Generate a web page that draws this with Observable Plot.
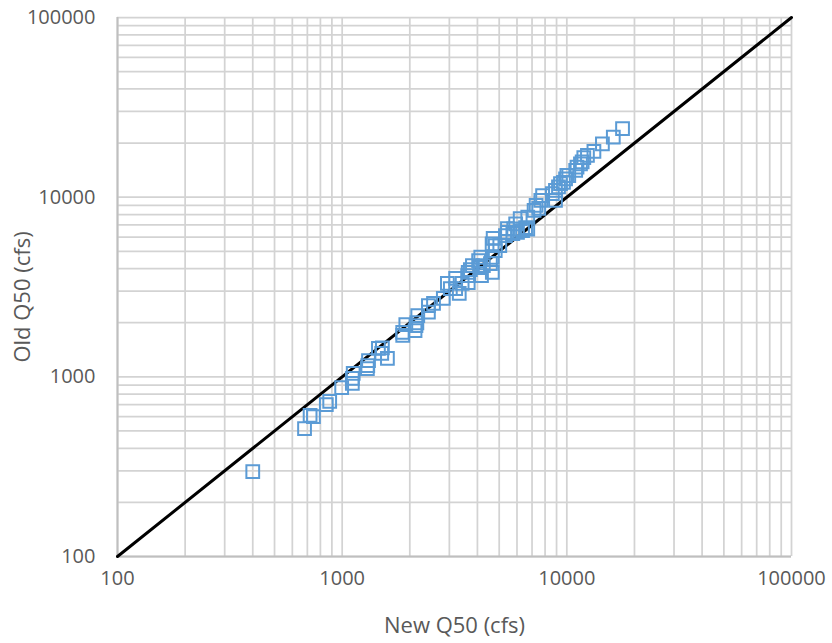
<!DOCTYPE html>
<html>
<head>
<meta charset="utf-8">
<script src="https://cdn.jsdelivr.net/npm/d3@7"></script>
<script src="https://cdn.jsdelivr.net/npm/@observablehq/plot@0.6"></script>
<style>
  html, body { margin: 0; padding: 0; background: #fff; }
  #chart svg { display: block; }
</style>
</head>
<body>
<div id="chart"></div>
<script>
// New Q50 (cfs) vs Old Q50 (cfs)
const newQ50 = [400, 680, 720, 745, 850, 880, 995, 1110, 1110, 1120, 1300, 1295, 1310, 1450, 1510, 1590, 1500,
  1860, 1860, 2110, 1920, 2150, 2170, 2130, 2420, 2420, 2550, 2820, 2940, 3030, 3200, 3420, 3320, 3640, 3620, 3720,
  4100, 3200, 3640, 3800, 4050, 4140, 4250, 4570, 4660, 4800, 4800, 5440, 5750, 6030, 6350, 5440, 6550, 5030, 4660,
  4170, 7800, 8620, 8900, 7500, 7150, 6700, 6200, 5920, 5800, 5330, 4700, 4650, 6700, 11900, 11500, 10950, 10200,
  9870, 9660, 9370, 9180, 8900, 7660, 7300, 17700, 16100, 14400, 13200, 12350, 11700, 11100, 10000];
const oldQ50 = [297, 515, 610, 600, 700, 730, 870, 920, 980, 1045, 1155, 1110, 1230, 1440, 1450, 1265, 1350,
  1700, 1770, 1810, 1950, 2000, 2190, 1930, 2490, 2290, 2560, 2730, 3310, 3100, 3530, 3310, 2910, 3350, 3660, 3950,
  4060, 3100, 3810, 4160, 4430, 4630, 4160, 4270, 4630, 5040, 5380, 6360, 6260, 6360, 6520, 6690, 6770, 5380, 3810,
  3660, 10200, 10450, 9600, 8650, 8430, 7740, 7600, 7100, 6650, 6110, 5900, 5500, 6650, 16600, 15300, 14100, 13200,
  12650, 12100, 11900, 11400, 10900, 9600, 9000, 24100, 21600, 19800, 18000, 17100, 15700, 14700, 13200];
const axisTicks = [100, 1000, 10000, 100000];
const gridValues = [100,200,300,400,500,600,700,800,900,1000,2000,3000,4000,5000,6000,7000,8000,9000,
  10000,20000,30000,40000,50000,60000,70000,80000,90000,100000];
const oneToOne = [100, 100000];
const xTitle = "New Q50 (cfs)";
const yTitle = "Old Q50 (cfs)";

const points = newQ50.map((v, i) => ({x: v, y: oldQ50[i]}));
const lineData = oneToOne.map(v => ({x: v, y: v}));

const textColor = "#595959";
const font = "'Open Sans', 'Noto Sans', sans-serif";

const chart = Plot.plot({
  width: 832,
  height: 643,
  marginLeft: 117,
  marginRight: 41,
  marginTop: 17,
  marginBottom: 87,
  style: {fontFamily: font, background: "#fff"},
  x: {type: "log", domain: [100, 100000]},
  y: {type: "log", domain: [100, 100000]},
  marks: [
    Plot.ruleX(gridValues, {stroke: "#d3d3d3", strokeWidth: 1.75}),
    Plot.ruleY(gridValues, {stroke: "#d3d3d3", strokeWidth: 1.75}),
    Plot.ruleX([100], {stroke: "#bfbfbf", strokeWidth: 2}),
    Plot.ruleY([100], {stroke: "#bfbfbf", strokeWidth: 2}),
    Plot.line(lineData, {x: "x", y: "y", stroke: "#000", strokeWidth: 3}),
    Plot.dot(points, {x: "x", y: "y", symbol: "square", r: 7.2, stroke: "#5b9bd5", strokeWidth: 2, fill: "none"}),
    Plot.axisX({ticks: axisTicks, tickFormat: d => String(d), tickSize: 0, tickPadding: 14,
      fontSize: 20, color: textColor, label: null}),
    Plot.axisY({ticks: axisTicks, tickFormat: d => String(d), tickSize: 0, tickPadding: 22,
      fontSize: 20, color: textColor, label: null}),
    Plot.text([xTitle], {frameAnchor: "bottom", dy: 69, text: d => d, fontSize: 22, fill: textColor, lineAnchor: "middle"}),
    Plot.text([yTitle], {frameAnchor: "left", dx: -95, dy: 10, rotate: -90, textAnchor: "middle", text: d => d, fontSize: 22, fill: textColor, lineAnchor: "middle"})
  ]
});
document.getElementById("chart").appendChild(chart);
</script>
</body>
</html>
